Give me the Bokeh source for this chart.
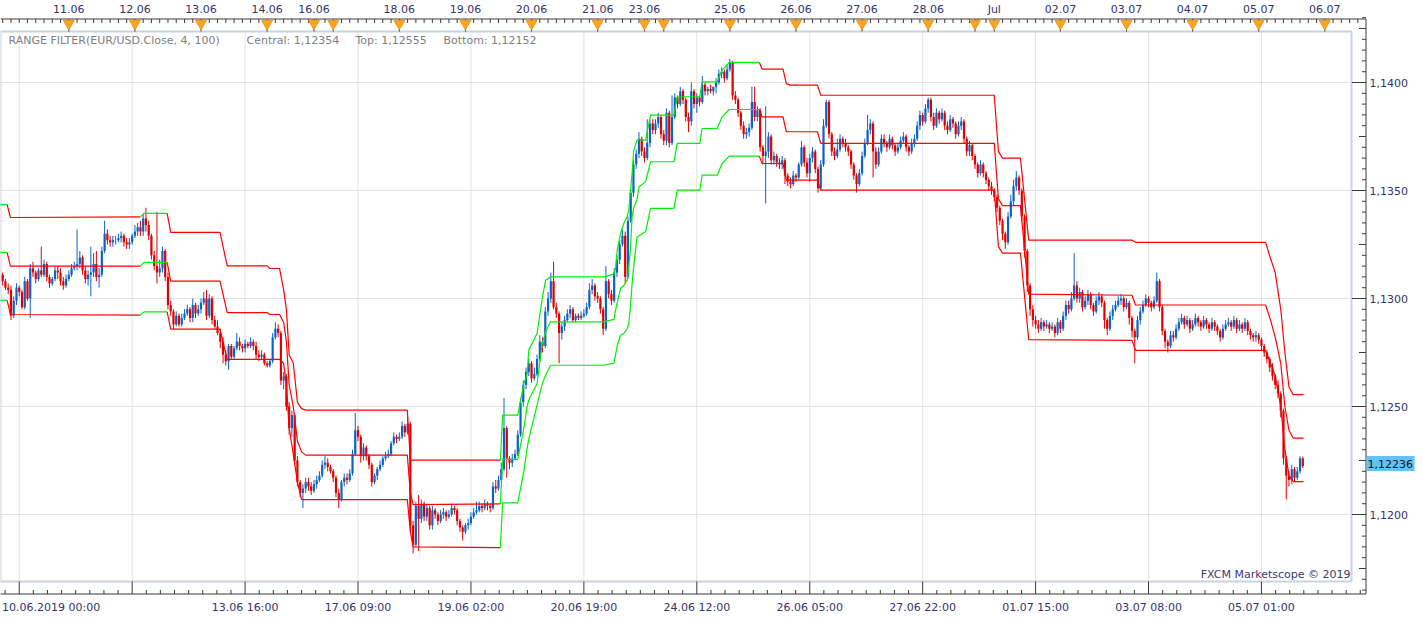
import numpy as np
from bokeh.plotting import figure
from bokeh.models import Range1d, ColumnDataSource
from bokeh.core.properties import value
from bokeh.embed import file_html
from bokeh.resources import INLINE

# ---------------- data (prices in pips above 1.1100) ----------------
BASE = 1.1100
PIP = 0.0001
FIRST_OPEN = 211
CLOSE = [208,205,204,192,199,205,203,196,208,200,
214,212,209,213,211,216,210,207,209,213,
212,208,206,209,211,214,215,216,219,213,
209,211,212,216,210,211,222,230,227,226,
227,227,228,229,226,225,226,229,231,233,
231,237,234,229,220,215,212,214,222,210,
197,194,188,192,188,191,193,195,191,197,
193,195,198,200,192,200,190,187,184,180,
174,171,178,173,177,180,178,177,179,178,
180,178,174,173,174,170,169,171,182,186,
184,162,164,150,140,146,125,115,110,112,
115,113,111,114,116,118,123,124,122,120,
117,110,107,115,117,116,119,128,139,136,
127,131,127,123,115,118,121,123,126,127,
128,133,136,135,136,141,138,142,95,86,
104,98,105,99,103,95,102,100,97,100,
101,99,100,103,102,97,94,92,95,96,
99,101,102,104,103,105,104,103,113,112,
116,121,140,126,124,126,128,137,152,160,
166,170,163,165,172,180,178,194,200,208,
196,193,184,187,190,193,195,190,192,191,
192,193,196,204,206,201,200,195,186,208,
202,199,212,218,225,229,210,236,249,262,
267,274,268,265,272,281,278,281,284,276,
273,286,272,284,293,290,296,292,284,282,
296,290,293,291,299,296,297,296,298,300,
304,305,302,306,309,294,292,286,280,276,
277,279,291,284,287,270,266,268,275,264,
266,263,262,264,257,254,253,257,256,262,
270,263,258,265,268,260,251,262,280,291,
276,268,266,269,274,272,270,268,262,257,
253,258,266,272,278,281,268,262,268,274,
272,270,274,271,268,270,273,275,270,268,
272,274,280,285,282,288,292,284,280,286,
283,286,280,278,283,281,276,280,282,274,
268,271,266,262,258,262,258,255,252,250,
247,242,236,230,226,238,245,252,256,250,
238,222,206,195,190,188,186,189,187,188,
186,187,184,189,186,192,197,195,200,206,
200,203,196,199,202,197,194,199,201,198,
190,186,192,195,197,199,200,196,198,191,
185,182,190,194,197,200,198,196,199,208,
196,185,180,178,183,182,186,189,191,188,
190,186,188,191,189,187,190,188,186,189,
187,185,182,186,188,189,187,190,186,188,
186,189,185,183,182,183,181,178,175,172,
168,164,160,156,148,126,118,116,121,117,
120,126,122.4]

HIGH = [212,209,207,206,201,207,206,204,210,209,
216,217,213,214,224,218,217,211,210,215,
215,214,210,211,213,216,217,232,222,220,
215,213,224,221,222,214,224,236,232,229,
229,229,230,231,230,228,228,230,234,235,
236,239,242,236,230,222,240,218,224,223,
212,199,195,194,193,193,195,197,196,200,
198,197,200,203,204,202,201,192,190,186,
182,176,179,179,178,184,182,179,181,180,
182,181,180,176,176,175,171,172,184,189,
188,185,166,165,152,148,147,127,116,114,
117,117,115,116,118,120,125,127,126,123,
121,118,112,116,119,119,121,130,147,141,
137,133,132,128,124,119,122,125,127,129,
130,134,138,137,138,143,142,145,143,97,
106,109,107,106,105,104,104,103,101,102,
103,102,102,105,104,103,98,95,96,98,
101,103,106,106,105,107,106,105,115,116,
118,124,154,141,127,128,130,139,154,162,
168,172,171,168,174,183,182,196,203,212,
217,198,194,189,192,195,197,196,193,193,
194,195,198,207,209,207,203,201,196,215,
209,204,214,220,227,232,231,238,251,264,
269,277,275,270,283,283,283,283,286,285,
278,288,287,294,295,294,298,297,293,286,
300,297,295,294,303,300,298,299,298,302,
306,307,306,308,311,310,296,293,287,282,
279,281,298,298,289,288,271,289,277,276,
268,267,265,266,265,258,256,259,258,263,
273,271,265,267,270,269,261,264,283,292,
292,277,270,274,276,275,274,271,269,263,
258,260,268,274,285,283,282,270,270,276,
276,273,276,275,272,272,275,277,276,271,
274,276,282,287,286,290,293,293,286,288,
287,288,287,282,285,284,282,282,284,283,
275,273,272,267,263,264,263,259,256,254,
251,248,243,237,231,240,248,255,259,257,
251,239,223,207,197,192,190,191,190,190,
189,189,188,191,190,194,199,199,203,221,
208,205,204,201,204,203,198,201,203,202,
199,191,194,197,199,201,202,201,200,199,
192,186,192,196,199,202,201,199,201,212,
209,197,186,181,185,185,188,191,193,192,
192,191,190,193,192,190,192,191,189,191,
190,188,186,188,190,191,190,192,191,190,
189,191,190,186,184,185,184,182,179,176,
173,170,165,162,157,149,127,120,123,122,
122,127,126.8]

LOW = [206,204,202,190,191,197,201,195,195,199,
191,210,207,208,210,210,208,205,206,208,
209,206,204,205,208,210,213,213,214,211,
207,206,201,210,208,205,210,221,225,224,
224,225,226,226,224,223,223,225,228,229,
229,229,231,227,218,213,207,210,212,208,
195,192,186,187,187,187,190,192,189,189,
191,192,193,197,190,191,188,186,183,177,
170,169,167,172,172,176,176,175,175,177,
177,176,172,171,172,169,168,168,170,181,
182,160,158,148,137,136,123,113,108,103,
110,111,109,110,112,115,117,121,120,119,
115,108,103,106,113,114,115,118,127,134,
124,125,125,121,113,114,116,120,122,125,
126,127,132,133,134,135,136,137,92,82,
85,83,96,97,97,93,93,98,95,96,
98,97,98,99,100,95,92,88,91,93,
95,98,100,101,101,102,102,101,102,110,
111,115,120,117,121,122,125,127,136,150,
158,164,161,162,164,171,175,177,192,198,
195,191,170,181,185,189,191,189,189,190,
190,191,192,195,202,199,198,193,183,185,
200,197,198,210,216,224,207,209,235,247,
260,265,266,263,264,270,276,276,279,274,
271,271,270,271,283,288,289,290,282,277,
280,288,286,289,290,294,294,295,294,295,
299,302,300,301,305,292,290,284,278,274,
274,275,278,282,282,268,262,244,265,262,
262,261,260,260,253,252,251,252,254,255,
261,261,256,254,263,258,249,250,261,279,
274,266,264,265,268,270,268,266,260,255,
249,252,257,265,271,276,256,260,261,267,
270,268,269,269,266,267,269,272,268,266,
267,270,273,278,280,281,286,282,278,279,
281,282,278,276,277,279,274,275,278,272,
266,266,264,260,256,257,256,253,250,248,
245,240,234,227,223,225,237,243,250,248,
236,219,203,192,187,186,184,185,185,186,
184,185,182,183,184,185,190,193,194,199,
198,198,194,195,197,195,192,193,197,196,
186,183,185,190,194,196,197,194,195,188,
182,170,181,188,193,196,196,194,195,198,
194,183,177,175,177,180,181,185,188,186,
187,184,185,187,187,185,186,186,184,185,
185,183,180,181,185,187,185,186,184,185,
184,185,183,181,180,180,179,176,173,170,
166,162,158,154,145,123,107,113,114,115,
116,119,121.5]

# Range filter (breakpoints: bar index, top / central / bottom in pips, trend 1=up)
RF_IDX = [-1, 1.6, 2.8, 50, 51.3, 59.7, 61, 78.9, 81.5, 96, 97, 100.5, 102, 103, 104, 105.5,
          107, 108.5, 110, 146.9, 148, 149, 180.7, 181.5, 187, 189.2, 190.4, 191, 194, 195.9,
          197.1, 198.9, 218.2, 221.9, 222.5, 223.1, 224.3, 225.5, 226.7, 227.3, 227.9, 228.5,
          229.1, 230.3, 231, 233.4, 235.2, 243.7, 244.9, 253.1, 253.9, 259.4, 261.2, 263.8,
          274.7, 275.7, 283.3, 284.5, 286, 295.8, 297, 360, 361.5, 363, 369.5, 372.5, 410,
          411.3, 458.5, 460.3, 462, 464, 465.5, 467, 468.5, 472.3]
RF_TOP = [243.5, 243.5, 237.5, 237.8, 239.4, 239.4, 230.6, 230.6, 215.1, 215.1, 213.9, 213.9,
          204, 195, 174, 170, 152, 149, 148.3, 148.3, 125.2, 125.2, 125.2, 146, 146, 160.6, 165,
          176.1, 183.8, 200, 208.5, 210, 210, 211.3, 214, 222.4, 230, 234.7, 238, 240.9, 250,
          257.9, 268.7, 273.3, 273.3, 273.3, 284.9, 284.9, 293.4, 293.4, 300.3, 300.3, 305.7,
          309.3, 309.3, 306.2, 306.2, 299.5, 298.8, 298.8, 294.1, 294.1, 268, 265, 265, 227,
          227, 226, 226, 218.5, 212, 195, 175, 159, 155.5, 155.5]
RF_MID = [221.3, 221.3, 215.0, 215.0, 216.7, 216.7, 208.0, 208.0, 193.5, 193.5, 192.6, 192.6,
          189, 180, 160, 150, 134, 129, 127.5, 127.5, 110, 104.6, 104.9, 125.5, 125.5, 140,
          150.2, 153, 160.6, 179.2, 184.6, 189.2, 189.2, 190.3, 194.6, 198, 204.6, 206, 208.5,
          215, 222.4, 237.8, 242, 246, 251.7, 254, 263.3, 263.3, 271.8, 271.8, 278.7, 278.7,
          284.1, 287.5, 287.5, 284.1, 284.1, 277.2, 277.2, 277.2, 271.8, 271.8, 246, 243, 243,
          202, 201.5, 197, 197, 190, 182, 170, 150, 139, 135.4, 135.4]
RF_BOT = [199.1, 199.1, 192.6, 192.3, 193.8, 193.8, 185.8, 185.8, 171.8, 171.8, 171.8, 171.8,
          170, 160, 140, 128, 115, 107, 106.9, 106.9, 92, 85, 84.7, 105.4, 105.4, 120, 130.6,
          135, 150.6, 160.6, 164.5, 169.1, 169.1, 170.1, 174, 178, 183, 183.8, 186, 188.4, 196,
          206.9, 215, 228.5, 229, 230.9, 241.7, 241.7, 250.2, 250.2, 257.1, 257.1, 262.5,
          265.9, 265.9, 262.5, 262.5, 254.8, 254.8, 254.8, 250.2, 250.2, 224, 221, 221, 181,
          180.6, 176, 176, 170, 164, 150, 130, 118, 115.2, 115.2]
RF_UP = [1, 1, 0, 0, 1, 1, 0, 0, 0, 0, 0, 0, 0, 0, 0, 0, 0, 0, 0, 0, 0, 0, 0,
         1, 1, 1, 1, 1, 1, 1, 1, 1, 1, 1, 1, 1, 1, 1, 1, 1, 1, 1, 1, 1, 1, 1, 1, 1, 1, 1, 1, 1,
         1, 1, 1, 0, 0, 0, 0, 0, 0, 0, 0, 0, 0, 0, 0, 0, 0, 0, 0, 0, 0, 0, 0, 0]

LAST_PRICE = 1.12236
LAST_PRICE_TEXT = "1,12236"
TITLE = "RANGE FILTER(EUR/USD.Close, 4, 100)"
INFO = ["Central: 1,12354", "Top: 1,12555", "Bottom: 1,12152"]
COPYRIGHT = "FXCM Marketscope \u00a9 2019"

DAY_TICKS = [24, 48, 72, 96, 113, 120, 144, 168, 192, 216, 233, 240, 264, 288, 312, 336,
             353, 360, 384, 408, 432, 456, 480]
DAY_LABELS = ["11.06", "12.06", "13.06", "14.06", "16.06", "", "18.06", "19.06", "20.06",
              "21.06", "23.06", "", "25.06", "26.06", "27.06", "28.06", "", "Jul", "02.07",
              "03.07", "04.07", "05.07", "06.07"]
TIME_TICKS = [6, 47, 88, 129, 170, 211, 252, 293, 334, 375, 416, 457]
TIME_LABELS = ["", "", "13.06 16:00", "17.06 09:00", "19.06 02:00", "20.06 19:00",
               "24.06 12:00", "26.06 05:00", "27.06 22:00", "01.07 15:00", "03.07 08:00",
               "05.07 01:00"]
FIRST_TIME_LABEL = "10.06.2019 00:00"
PRICE_TICKS = [1.1200, 1.1250, 1.1300, 1.1350, 1.1400]

# ---------------- layout constants (pixel geometry of the page) ----------------
W, H = 1423, 619
BAR_PX = 2.7544          # pixels per bar
FIRST_BAR_PX = 2.2       # pixel x of bar 0
PX_PER_PRICE = 21600.0   # pixels per 1.0 of price
REF_PRICE, REF_PY = 1.12, 514.0
AX_TOP, AX_BOT, AX_RIGHT = 18.5, 593.5, 1365.5
IN_TOP, IN_BOT, IN_RIGHT = 31, 581, 1351


def dx(px):
    return (px - FIRST_BAR_PX) / BAR_PX


def dy(py):
    return REF_PRICE + (REF_PY - py) / PX_PER_PRICE


FONT = "DejaVu Sans"
LABEL_COL = "#33336b"
AXIS_COL = "#3a3a3a"
GRID_COL = "#e2e2e2"
UP_COL = "#0b63c8"
DN_COL = "#e00000"
RF_RED = "#ff0000"
RF_GREEN = "#00f000"

p = figure(width=W, height=H, output_backend="svg", toolbar_location=None,
           x_range=Range1d(dx(0), dx(W)), y_range=Range1d(dy(H), dy(0)),
           x_axis_location=None, y_axis_location=None, min_border=0,
           background_fill_color="white", border_fill_color="white")
p.outline_line_color = None
p.grid.visible = False

# grid lines inside the inner frame
n = len(PRICE_TICKS)
p.segment(x0=[dx(0)] * n, x1=[dx(IN_RIGHT)] * n, y0=PRICE_TICKS, y1=PRICE_TICKS,
          line_color=GRID_COL, line_width=1)
n = len(TIME_TICKS)
p.segment(x0=TIME_TICKS, x1=TIME_TICKS, y0=[dy(IN_BOT)] * n, y1=[dy(IN_TOP)] * n,
          line_color=GRID_COL, line_width=1)
p.quad(left=[dx(0)], right=[dx(IN_RIGHT)], top=[dy(IN_TOP)], bottom=[dy(IN_BOT)],
       fill_color=None, line_color="#c9d3df", line_width=2)

# candles
c = BASE + np.array(CLOSE, dtype=float) * PIP
o = BASE + np.array([FIRST_OPEN] + CLOSE[:-1], dtype=float) * PIP
h = BASE + np.array(HIGH, dtype=float) * PIP
l = BASE + np.array(LOW, dtype=float) * PIP
idx = np.arange(len(CLOSE))
up = c >= o
for mask, col in ((up, UP_COL), (~up, DN_COL)):
    src = ColumnDataSource(dict(x=idx[mask], hi=h[mask], lo=l[mask],
                                top=np.maximum(o, c)[mask], bot=np.minimum(o, c)[mask]))
    p.segment(x0="x", x1="x", y0="lo", y1="hi", source=src, line_color=col, line_width=1)
    p.vbar(x="x", width=0.8, top="top", bottom="bot", source=src,
           fill_color=col, line_color=None)

# range filter lines (coloured by trend)
xs, ys, cols = [], [], []
for line in (RF_TOP, RF_MID, RF_BOT):
    vals = [BASE + v * PIP for v in line]
    run_x, run_y, run_c = [RF_IDX[0]], [vals[0]], RF_UP[1]
    for k in range(len(RF_IDX) - 1):
        col = RF_UP[k + 1]
        if col != run_c:
            xs.append(run_x); ys.append(run_y); cols.append(RF_GREEN if run_c else RF_RED)
            run_x, run_y, run_c = [RF_IDX[k]], [vals[k]], col
        run_x.append(RF_IDX[k + 1]); run_y.append(vals[k + 1])
    xs.append(run_x); ys.append(run_y); cols.append(RF_GREEN if run_c else RF_RED)
p.multi_line(xs=xs, ys=ys, line_color=cols, line_width=1.2)

# ---------------- axes (drawn in the page's own geometry) ----------------
# axis lines: top, bottom, right
p.segment(x0=[dx(0), dx(0), dx(AX_RIGHT)], x1=[dx(AX_RIGHT), dx(AX_RIGHT), dx(AX_RIGHT)],
          y0=[dy(AX_TOP), dy(AX_BOT), dy(AX_TOP)], y1=[dy(AX_TOP), dy(AX_BOT), dy(AX_BOT)],
          line_color=AXIS_COL, line_width=1)

# top axis: 3-hour minor ticks, day major ticks with orange markers
top_minor = [t for t in range(0, 495, 3) if t not in DAY_TICKS]
p.segment(x0=top_minor, x1=top_minor, y0=[dy(AX_TOP)] * len(top_minor),
          y1=[dy(AX_TOP + 4)] * len(top_minor), line_color=AXIS_COL, line_width=1)
p.segment(x0=DAY_TICKS, x1=DAY_TICKS, y0=[dy(AX_TOP)] * len(DAY_TICKS),
          y1=[dy(IN_TOP)] * len(DAY_TICKS), line_color=AXIS_COL, line_width=1)
p.scatter(x=DAY_TICKS, y=[dy(23)] * len(DAY_TICKS), marker="inverted_triangle", size=11,
          fill_color="#f7a623", line_color="#f0961a")
p.text(x=DAY_TICKS, y=[dy(8.5)] * len(DAY_TICKS), text=DAY_LABELS, text_align="center",
       text_baseline="middle", text_font=value(FONT), text_font_size="11px",
       text_color=LABEL_COL)

# bottom axis
bot_minor = [6 + 41 * k / 8 for k in range(-1, 8 * 12 + 1) if k % 8 != 0]
p.segment(x0=bot_minor, x1=bot_minor, y0=[dy(AX_BOT)] * len(bot_minor),
          y1=[dy(AX_BOT - 4)] * len(bot_minor), line_color=AXIS_COL, line_width=1)
p.segment(x0=TIME_TICKS, x1=TIME_TICKS, y0=[dy(AX_BOT)] * len(TIME_TICKS),
          y1=[dy(IN_BOT)] * len(TIME_TICKS), line_color=AXIS_COL, line_width=1)
p.text(x=TIME_TICKS, y=[dy(606.5)] * len(TIME_TICKS), text=TIME_LABELS, text_align="center",
       text_baseline="middle", text_font=value(FONT), text_font_size="11px",
       text_color=LABEL_COL)
p.text(x=[dx(1.5)], y=[dy(606.5)], text=[FIRST_TIME_LABEL], text_align="left",
       text_baseline="middle", text_font=value(FONT), text_font_size="11px",
       text_color=LABEL_COL)

# right (price) axis
price_minor = [round(1.1165 + 0.0005 * k, 4) for k in range(0, 54)]
mid_ticks = [t for t in price_minor if round(t * 10000) % 25 == 0 and t not in PRICE_TICKS]
small_ticks = [t for t in price_minor if t not in mid_ticks and t not in PRICE_TICKS]
for ticks, length in ((PRICE_TICKS, 14), (mid_ticks, 7), (small_ticks, 4)):
    p.segment(x0=[dx(AX_RIGHT - length)] * len(ticks), x1=[dx(AX_RIGHT)] * len(ticks),
              y0=ticks, y1=ticks, line_color=AXIS_COL, line_width=1)
p.text(x=[dx(1369)] * len(PRICE_TICKS), y=PRICE_TICKS,
       text=[("%.4f" % t).replace(".", ",") for t in PRICE_TICKS], text_align="left",
       text_baseline="middle", text_font=value(FONT), text_font_size="11px",
       text_color=LABEL_COL)

# last-price box
p.quad(left=[dx(1366)], right=[dx(1414)], top=[LAST_PRICE + 7.5 / PX_PER_PRICE],
       bottom=[LAST_PRICE - 7.5 / PX_PER_PRICE], fill_color="#62c3f6", line_color=None)
p.text(x=[dx(1367)], y=[LAST_PRICE], text=[LAST_PRICE_TEXT], text_align="left",
       text_baseline="middle", text_font=value(FONT), text_font_size="11px",
       text_color="#111111")

# texts inside the chart
p.text(x=[dx(8), dx(246), dx(355), dx(443)], y=[dy(40)] * 4, text=[TITLE] + INFO,
       text_align="left", text_baseline="middle", text_font=value(FONT),
       text_font_size="11px", text_color="#808080")
p.text(x=[dx(1350)], y=[dy(574)], text=[COPYRIGHT], text_align="right",
       text_baseline="middle", text_font=value(FONT), text_font_size="11px",
       text_color="#3a3a6e")

open("out.html", "w").write(file_html(p, INLINE))
